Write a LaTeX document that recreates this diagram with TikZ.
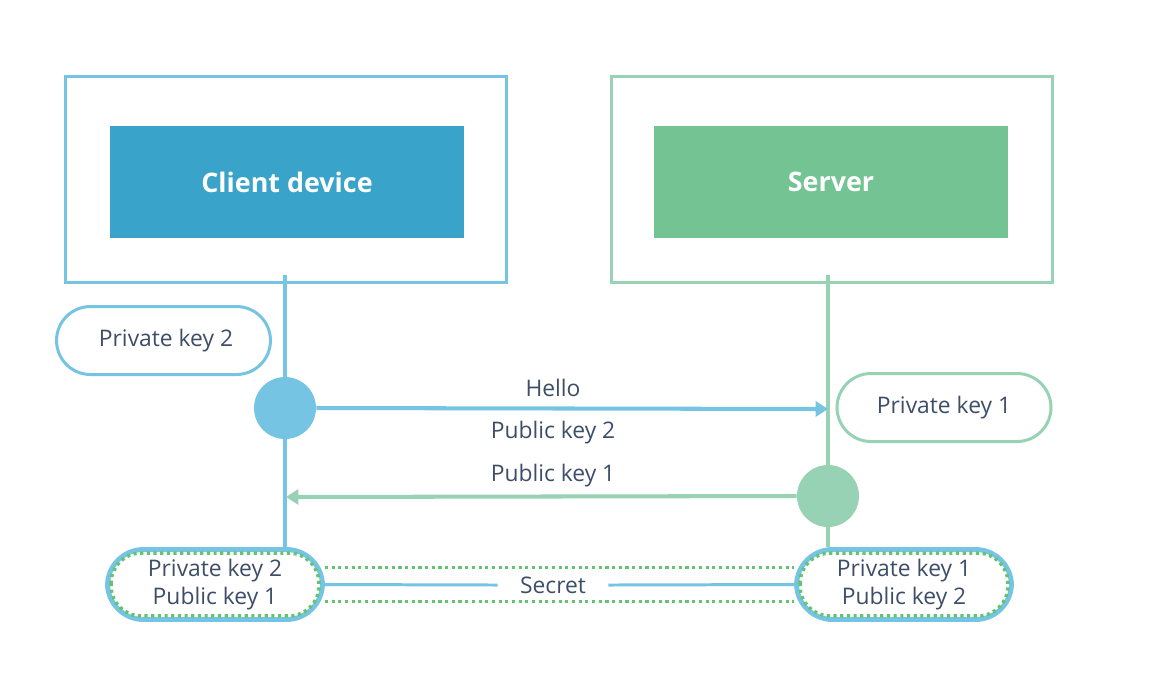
\documentclass[tikz,border=0pt]{standalone}
\usepackage{fontspec}
\setmainfont{Open Sans}
\usepackage{tikz}
\usetikzlibrary{arrows.meta}
\usetikzlibrary{backgrounds}
\definecolor{cline}{RGB}{118,196,228}
\definecolor{cfill}{RGB}{58,163,201}
\definecolor{sline}{RGB}{152,210,180}
\definecolor{sfill}{RGB}{115,196,146}
\definecolor{dotgreen}{RGB}{100,196,112}
\definecolor{txt}{RGB}{62,78,104}
\tikzset{
  frame/.style={draw, line width=1.7pt, minimum width=8.82cm, minimum height=4.12cm},
  title/.style={minimum width=7.08cm, minimum height=2.24cm, text=white, font=\fontsize{15.3}{18}\selectfont\bfseries},
  keypill/.style={draw, fill=white, line width=1.7pt, rounded corners=0.68cm, minimum width=4.28cm, minimum height=1.36cm, text=txt, font=\fontsize{13}{15}\selectfont},
  keypair/.style={draw=cline, fill=white, line width=2.8pt, rounded corners=0.72cm, minimum width=4.3cm, minimum height=1.4cm, text=txt, align=center, font=\fontsize{13}{16}\selectfont},
  dot/.style={circle, minimum size=1.24cm, inner sep=0pt},
  msg/.style={text=txt, font=\fontsize{13}{15}\selectfont},
  wire/.style={line width=2.3pt},
  tip/.style={-{Triangle[length=7pt,width=8.5pt]}},
  dotline/.style={dotgreen, line width=2pt, dash pattern=on 1.8pt off 2pt}
}
\begin{document}
\begin{tikzpicture}[x=0.02cm, y=-0.02cm]
        \useasboundingbox (0,0) rectangle (1151,681);

        % client side
        \node[frame, draw=cline] (clientbox) at (286,179.5) {};
        \node[title, fill=cfill] (clientfill) at (287,182) {Client device};
        \coordinate (ctop) at (285,275);
        \node[keypill, draw=cline] (privc) at (163.5,340.5) {\hspace{0.1cm}Private key 2};
        \node[dot, fill=cline] (cdot) at (285,408) {};
        \node[keypair] (keysc) at (215,584.5) {Private key 2\\Public key 1};

        % server side
        \node[frame, draw=sline] (serverbox) at (832,179.5) {};
        \node[title, fill=sfill] (serverfill) at (831,182) {Server};
        \coordinate (stop) at (828,275);
        \node[keypill, draw=sline] (privs) at (944,407.5) {Private key 1};
        \node[dot, fill=sline] (sdot) at (828,496) {};
        \node[keypair] (keyss) at (904,584.5) {Private key 1\\Public key 2};

        % messages
        \coordinate (shello) at (828,409);
        \coordinate (cback) at (286,497);
        \node[msg] (hello) at (553,388) {Hello};
        \node[msg] (pub2) at (553,433) {Public key 2};
        \node[msg] (pub1) at (553,476) {Public key 1};
        \node[msg, minimum width=2.2cm] (secret) at (553,585) {Secret};

        \begin{scope}[on background layer]
            \draw[cline, wire] (ctop) -- (ctop |- keysc.north);
            \draw[sline, wire] (stop) -- (stop |- keyss.north);
            \draw[dotline] ([yshift=0.34cm]keysc.east) -- ([yshift=0.34cm]keyss.west);
            \draw[dotline] ([yshift=-0.34cm]keysc.east) -- ([yshift=-0.34cm]keyss.west);
        \end{scope}
        \draw[cline, wire, tip] (cdot.east) -- (shello);
        \draw[sline, wire, tip] (sdot.west) -- (cback);
        \draw[cline, line width=1.7pt] (keysc.east) -- (secret.west);
        \draw[cline, line width=1.7pt] (secret.east) -- (keyss.west);

        % dotted inner rings
        \draw[dotline, rounded corners=0.6cm] ([xshift=0.12cm,yshift=-0.12cm]keysc.north west) rectangle ([xshift=-0.12cm,yshift=0.12cm]keysc.south east);
        \draw[dotline, rounded corners=0.6cm] ([xshift=0.12cm,yshift=-0.12cm]keyss.north west) rectangle ([xshift=-0.12cm,yshift=0.12cm]keyss.south east);
\end{tikzpicture}
\end{document}
